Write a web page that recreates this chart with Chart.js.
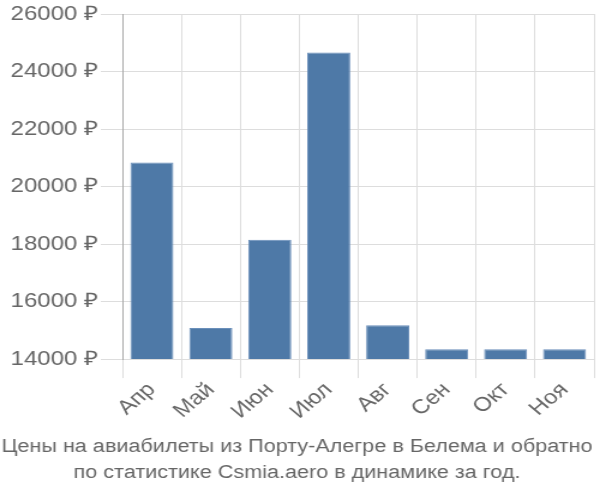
<!DOCTYPE html>
<html>
<head>
<meta charset="utf-8">
<script src="https://cdn.jsdelivr.net/npm/chart.js@4.4.0/dist/chart.umd.min.js"></script>
<style>
  html, body { margin: 0; padding: 0; background: #fff; overflow: hidden; }
  #wrap { width: 500px; height: 500px; transform: scaleX(1.2); transform-origin: 0 0; }
</style>
</head>
<body>
<div id="wrap"><canvas id="bar-chart" width="500" height="500"></canvas></div>
<script>
// months (categories) and ticket prices in rubles
const months = ['Апр', 'Май', 'Июн', 'Июл', 'Авг', 'Сен', 'Окт', 'Ноя'];
const prices = [20840, 15080, 18150, 24660, 15180, 14340, 14340, 14340];
const titleLines = [
  'Цены на авиабилеты из Порту-Алегре в Белема и обратно',
  'по статистике Csmia.aero в динамике за год.'
];

const textColor = '#666';
const gridColor = '#dddddd';

new Chart(document.getElementById('bar-chart'), {
  type: 'bar',
  data: {
    labels: months,
    datasets: [{
      data: prices,
      backgroundColor: '#4e79a7',
      borderColor: '#6a8fba',
      borderWidth: 1,
      barPercentage: 0.73,
      categoryPercentage: 1.0,
    }],
  },
  options: {
    responsive: false,
    animation: false,
    layout: { padding: { left: 0, right: 5, top: 6, bottom: 0 } },
    plugins: {
      legend: { display: false },
      tooltip: { enabled: false },
      title: {
        display: true,
        position: 'bottom',
        text: titleLines,
        color: textColor,
        font: { family: 'Liberation Sans', size: 18, weight: 'normal', lineHeight: 1.45 },
        padding: { top: 10, bottom: 14 },
      },
    },
    scales: {
      x: {
        grid: { color: gridColor, tickLength: 19, offset: true },
        border: { color: gridColor },
        ticks: {
          color: textColor,
          font: { family: 'Liberation Sans', size: 20 },
          maxRotation: 45,
          minRotation: 45,
          autoSkip: false,
          padding: 0,
        },
      },
      y: {
        min: 14000,
        max: 26000,
        grid: { color: gridColor, tickLength: 18 },
        border: { color: '#aaaaaa' },
        ticks: {
          stepSize: 2000,
          color: textColor,
          font: { family: 'Liberation Sans', size: 20 },
          padding: 2,
          callback: v => v + ' ₽',
        },
        afterFit: scale => { scale.width = 102; },
      },
    },
  },
});
</script>
</body>
</html>
